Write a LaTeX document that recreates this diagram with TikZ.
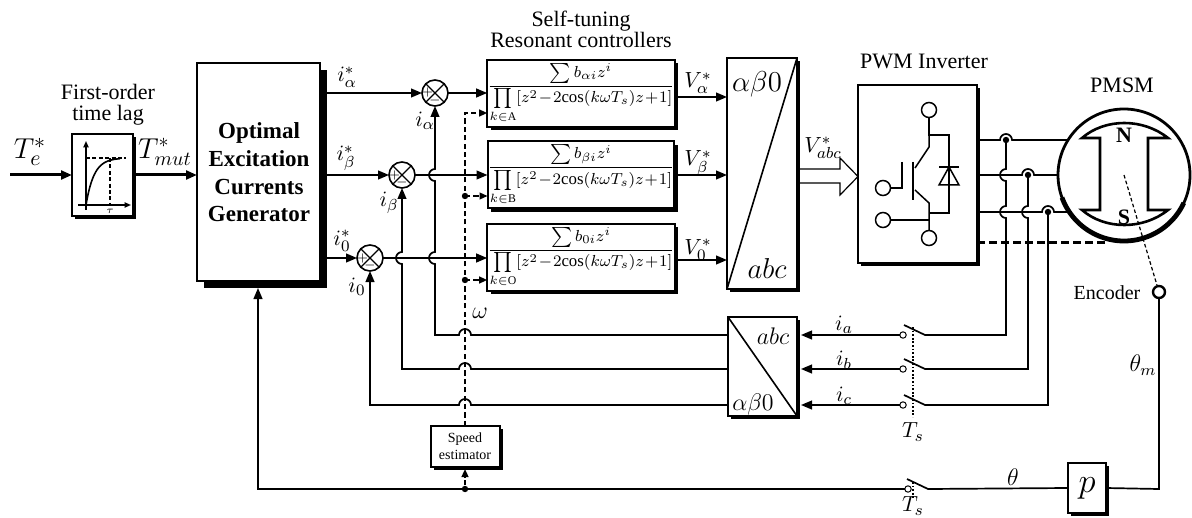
\documentclass[tikz,border=0pt]{standalone}
\usepackage{fontspec}
\setmainfont{Liberation Serif}
\usetikzlibrary{arrows.meta,shadows}
% transfer function of one resonant controller bank
\newcommand\rctl[2]{{\fontsize{8.4}{10}\selectfont\medmuskip=1mu
  $\displaystyle\frac{\sum b_{#1 i}z^{i}}{\prod\limits_{k\in\mathrm{#2}}[z^{2}-2\mathrm{cos}(k\omega T_{s})z+1]}$}}
\begin{document}
\begin{tikzpicture}[x=0.5pt,y=-0.5pt,
  wire/.style={line width=0.85pt},
  fatwire/.style={line width=1.5pt},
  tip/.style={-{Triangle[length=5.5pt,width=4.4pt]}},
  smalltip/.style={-{Triangle[length=4pt,width=3.4pt]}},
  dwire/.style={line width=0.85pt,dash pattern=on 2.6pt off 1.6pt},
  blk/.style={draw,line width=1pt,fill=white,inner sep=0pt,outer sep=0pt,
    drop shadow={fill=black,opacity=1,shadow xshift=#1,shadow yshift=-#1}},
  blk/.default=1.7pt,
  summer/.style={circle,draw,line width=0.8pt,fill=white,minimum size=13pt,inner sep=0pt,outer sep=0pt},
  contact/.style={circle,draw,line width=0.5pt,fill=white,minimum size=3.2pt,inner sep=0pt,outer sep=0pt},
  dot/.style={circle,fill,inner sep=0pt,minimum size=3.2pt},
  lab/.style={inner sep=0pt,font=\fontsize{11}{13}\selectfont},
  ttl/.style={inner sep=0pt,anchor=base,font=\fontsize{11}{13}\selectfont},
  sampler/.style={line width=0.9pt,dash pattern=on 0.9pt off 0.9pt},
]
\useasboundingbox (0,0) rectangle (1192,518);

% ---------- blocks ----------
\node[blk, minimum width=30.5pt, minimum height=41pt] (lag) at (102.5,175) {};
\node[blk=3.5pt, minimum width=61.5pt, minimum height=109pt] (gen) at (258.5,172) {};
\node[inner sep=0pt, align=center, font=\bfseries\fontsize{11.5}{13.8}\selectfont] (gentxt) at (259,172.5)
  {Optimal\\Excitation\\Currents\\Generator};

\node[blk, minimum width=91pt, minimum height=33.5pt] (ca) at (581,93.5) {\rctl{\alpha}{A}};
\node[blk, minimum width=91pt, minimum height=33.5pt] (cb) at (581,175) {\rctl{\beta}{B}};
\node[blk, minimum width=91pt, minimum height=33.5pt] (cc) at (581,257.5) {\rctl{0}{O}};

\node[blk, minimum width=35pt, minimum height=115.5pt] (tu) at (762,173.5) {};
\draw[line width=0.8pt] (tu.south west) -- (tu.north east);
\node[inner sep=0pt, font=\fontsize{14}{16}\selectfont] at (757,84) {$\alpha\beta0$};
\node[inner sep=0pt, font=\fontsize{14}{16}\selectfont] at (767,268) {$abc$};

\node[blk, minimum width=59.5pt, minimum height=89pt] (inv) at (917.5,174) {};

\node[blk, minimum width=34.5pt, minimum height=49.5pt] (tl) at (762.5,366.5) {};
\draw[line width=0.8pt] (tl.north west) -- (tl.south east);
\node[inner sep=0pt, font=\fontsize{13}{15}\selectfont] at (773,336) {$abc$};
\node[inner sep=0pt, font=\fontsize{13}{15}\selectfont] at (753,404) {$\alpha\beta0$};

\node[blk=1.5pt, minimum width=34.5pt, minimum height=20.5pt, align=center,
  font=\fontsize{7}{8.4}\selectfont] (est) at (465,446.5) {Speed\\estimator};
\node[blk=1.5pt, minimum width=19pt, minimum height=25pt, font=\fontsize{17}{18}\selectfont] (pp) at (1087,488) {$p$};

\node[circle, draw, line width=1.4pt, minimum size=66pt, inner sep=0pt, outer sep=0pt, fill=white] (mot) at (1124,175) {};
\draw[line width=2.4pt] (mot.200) arc[start angle=200, end angle=335, radius=33pt];
\node[circle, draw, line width=1.2pt, minimum size=6pt, inner sep=0pt] (enc) at (1159,292) {};

\node[summer] (sa) at (435,93) {};
\node[summer] (sb) at (402,175) {};
\node[summer] (sc) at (370,258) {};
\foreach \s in {sa,sb,sc}{
  \draw[line width=0.6pt] (\s.north west) -- (\s.south east) (\s.north east) -- (\s.south west);
  \node[inner sep=0pt, font=\fontsize{6}{6}\selectfont] at ([xshift=-3.7pt]\s.center) {$+$};
  \node[inner sep=0pt, font=\fontsize{6}{6}\selectfont] at ([yshift=-3.9pt]\s.center) {$-$};
}

% ---------- titles ----------
\node[ttl] at (108,100) {First-order};
\node[ttl] at (108,121) {time lag};
\node[ttl] at (581,27) {Self-tuning};
\node[ttl] at (581,48) {Resonant controllers};
\node[ttl] at (924,69) {PWM Inverter};
\node[ttl] at (1122,93) {PMSM};
\node[inner sep=0pt, anchor=base, font=\fontsize{10}{12}\selectfont] at (1107,299) {Encoder};

% ---------- first-order step response ----------
\draw[line width=0.7pt,-{Triangle[length=3.2pt,width=2.6pt]}] (86,210) -- (86,141);
\draw[line width=0.7pt,-{Triangle[length=3.2pt,width=2.6pt]}] (78,205) -- (131,205);
\draw[line width=0.7pt,dash pattern=on 2pt off 1.2pt] (86,158) -- (126,158) (110,158) -- (110,205);
\draw[line width=0.8pt] plot[domain=0:34,samples=30,smooth] ({86+\x},{205-47*(1-exp(-\x/8))});
\node[inner sep=0pt, font=\fontsize{5}{5}\selectfont] at (110,211) {$\tau$};

% ---------- inverter switch symbol ----------
\begin{scope}[line width=0.75pt]
  \draw (929,117.5) -- (929,135) -- (949,135) -- (949,213) -- (929,213);
  \draw (929,135) -- (929,147) -- (915,168);
  \draw (915,190) -- (929,203) -- (929,230.5);
  \draw[line width=1.3pt] (913,162) -- (913,200);
  \draw (902,162) -- (902,188) -- (890.5,188);
  \draw (890.5,220) -- (929,220);
  \draw (939,167) -- (959,167);
  \draw (939,185) -- (959,185) -- (949,167) -- cycle;
  \draw (929,110) circle[radius=3.75pt];
  \draw (883,188) circle[radius=3.75pt];
  \draw (883,220) circle[radius=3.75pt];
  \draw (929,238) circle[radius=3.75pt];
\end{scope}

% ---------- motor rotor ----------
\draw[line width=1.3pt] (1082,138) -- (1100,138) -- (1100,210) -- (1082,210)
  .. controls (1105,230) and (1143,230) .. (1168,210) -- (1148,210) -- (1148,138) -- (1168,138)
  .. controls (1143,118) and (1105,118) .. cycle;
\node[inner sep=0pt, font=\bfseries\fontsize{11}{13}\selectfont] at (1124,135) {N};
\node[inner sep=0pt, font=\bfseries\fontsize{11}{13}\selectfont] at (1124,217) {S};

% ---------- reference chain ----------
\coordinate (tin) at (10,175);
\draw[fatwire,tip] (tin) -- (lag.west);
\draw[fatwire,tip] (lag.east) -- (gen.west |- lag.east);
\draw[wire,tip] (gen.east |- sa) -- (sa.west);
\draw[wire,tip] (gen.east |- sb) -- (sb.west);
\draw[wire,tip] (gen.east |- sc) -- (sc.west);

% speed signal
\coordinate (wa) at (465,113);
\coordinate (wb) at (465,196);
\coordinate (wc) at (465,280);
\draw[dwire,smalltip] (est.north) -- (wa) -- (ca.west |- wa);
\draw[dwire,smalltip] (wb) -- (cb.west |- wb);
\draw[dwire,smalltip] (wc) -- (cc.west |- wc);
\node[dot] at (wb) {};
\node[dot] at (wc) {};

\draw[wire,tip] (sa.east) -- (ca.west |- sa.east);
\draw[wire,tip] (sb.east) -- (cb.west |- sb.east);
\draw[wire,tip] (sc.east) -- (cc.west |- sc.east);

% current feedback
\coordinate (ra) at (0,335);
\coordinate (rb) at (0,369);
\coordinate (rc) at (0,405);
\draw[wire,tip] (tl.west |- ra) -- (471,335) arc[start angle=0,end angle=180,radius=3pt] -- (435,335)
  -- (435,264) arc[start angle=270,end angle=90,radius=3pt]
  -- (435,181) arc[start angle=270,end angle=90,radius=3pt] -- (sa.south);
\draw[wire,tip] (tl.west |- rb) -- (471,369) arc[start angle=0,end angle=180,radius=3pt] -- (402,369)
  -- (402,264) arc[start angle=270,end angle=90,radius=3pt] -- (sb.south);
\draw[wire,tip] (tl.west |- rc) -- (471,405) arc[start angle=0,end angle=180,radius=3pt] -- (370,405)
  -- (sc.south);

% voltage references
\coordinate (va) at (0,97);
\coordinate (vb) at (0,175);
\coordinate (vc) at (0,260);
\draw[wire,tip] (ca.east |- va) -- (tu.west |- va);
\draw[wire,tip] (cb.east |- vb) -- (tu.west |- vb);
\draw[wire,tip] (cc.east |- vc) -- (tu.west |- vc);
\coordinate (vq) at (0,176.5);
\draw[line width=0.6pt, fill=white] (800,169) -- (840,169) -- (840,158) -- (inv.west |- vq)
  -- (840,195) -- (840,183) -- (800,183);

% phase outputs
\coordinate (pa) at (0,140);
\coordinate (pb) at (0,175);
\coordinate (pc) at (0,212);
\draw[wire] (inv.east |- pa) -- (1000,140) arc[start angle=180,end angle=0,radius=3pt] -- (mot.148);
\draw[wire] (inv.east |- pb) -- (1022,175) arc[start angle=180,end angle=0,radius=3pt] -- (mot.west);
\draw[wire] (inv.east |- pc) -- (1042,212) arc[start angle=180,end angle=0,radius=3pt] -- (mot.214);
\coordinate (md) at (1105,242);
\draw[line width=1.5pt, dash pattern=on 4pt off 2pt] (inv.east |- md) -- (md);
\draw[line width=0.6pt, dash pattern=on 1.8pt off 1.2pt] (mot.center) -- (enc);

\node[dot] (ta) at (1006,140) {};
\node[dot] (tb) at (1028,175) {};
\node[dot] (tcc) at (1048,212) {};
\node[contact] (ka) at (903,335) {};
\node[contact] (kb) at (903,369) {};
\node[contact] (kc) at (903,405) {};
\draw[wire] (ta.center) -- (1006,169) arc[start angle=90,end angle=270,radius=3pt]
  -- (1006,206) arc[start angle=90,end angle=270,radius=3pt] -- (1006,335) -- (925,335) -- (904,325);
\draw[wire] (tb.center) -- (1028,206) arc[start angle=90,end angle=270,radius=3pt]
  -- (1028,369) -- (925,369) -- (904,359);
\draw[wire] (tcc.center) -- (1048,405) -- (925,405) -- (904,395);
\coordinate (tle) at (801,0);
\draw[wire,tip] (ka.west) -- (tle |- ka);
\draw[wire,tip] (kb.west) -- (tle |- kb);
\draw[wire,tip] (kc.west) -- (tle |- kc);
\draw[sampler] (913,327) -- (913,417);

% position feedback
\node[contact] (kt) at (908,489) {};
\coordinate (bl) at (258,489);
\coordinate (gin) at (258,288);
\draw[wire,tip] (kt.west) -- (bl) -- (gin);
\draw[wire] (907,479) -- (928,489) -- (pp.west);
\draw[wire] (pp.east) -- (1159,489) -- (enc.south);
\draw[sampler] (913,482) -- (913,499);
\node[dot] (ed) at (465,489) {};
\coordinate (ein) at (465,469);
\draw[dwire,smalltip] (ed) -- (ein);

% ---------- signal labels ----------
\node[inner sep=0pt, font=\fontsize{15}{17}\selectfont] at (30,152) {$T_e^*$};
\node[inner sep=0pt, font=\fontsize{14}{16}\selectfont] at (165,152) {$T_{mut}^*$};
\node[lab] at (347,77) {$i_\alpha^*$};
\node[lab] at (425,121) {$i_\alpha$};
\node[lab] at (346,158) {$i_\beta^*$};
\node[lab] at (389,203) {$i_\beta$};
\node[lab] at (342,241) {$i_0^*$};
\node[lab] at (357,287) {$i_0$};
\node[inner sep=0pt, font=\fontsize{13}{15}\selectfont] at (480,313) {$\omega$};
\node[lab] at (698,83) {$V_\alpha^*$};
\node[lab] at (698,163) {$V_\beta^*$};
\node[lab] at (698,250) {$V_0^*$};
\node[lab] at (823,148) {$V_{abc}^*$};
\node[lab] at (844,325) {$i_a$};
\node[lab] at (844,360) {$i_b$};
\node[lab] at (844,396) {$i_c$};
\node[lab] at (913,432) {$T_s$};
\node[lab] at (913,506) {$T_s$};
\node[inner sep=0pt, font=\fontsize{12}{14}\selectfont] at (1013,477) {$\theta$};
\node[inner sep=0pt, font=\fontsize{12}{14}\selectfont] at (1143,365) {$\theta_m$};
\end{tikzpicture}
\end{document}
